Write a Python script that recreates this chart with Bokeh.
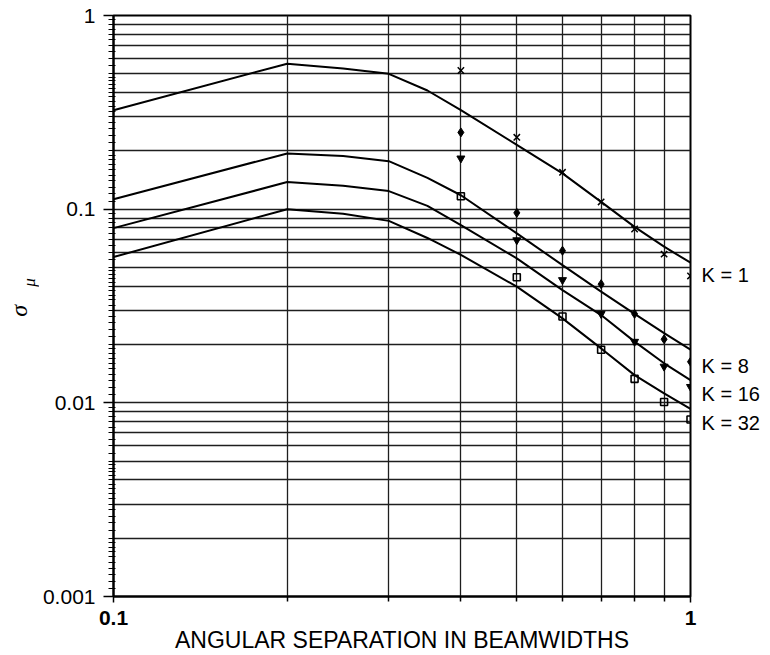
import numpy as np
from bokeh.plotting import figure
from bokeh.layouts import row
from bokeh.models import FixedTicker, CustomJSTickFormatter, LogAxis
from bokeh.core.properties import value
from bokeh.embed import file_html
from bokeh.resources import INLINE

# ---- data ----
x_curve = [0.1, 0.2, 0.25, 0.3, 0.35, 0.4, 0.5, 0.6, 0.7, 0.8, 0.9, 1.0]
k1_curve = [0.324, 0.564, 0.533, 0.50, 0.41, 0.325, 0.215, 0.153, 0.109, 0.081, 0.064, 0.0529]
k8_curve = [0.1126, 0.194, 0.188, 0.177, 0.145, 0.118, 0.075, 0.0514, 0.0375, 0.0288, 0.0229, 0.0188]
k16_curve = [0.0798, 0.138, 0.132, 0.124, 0.104, 0.0828, 0.0557, 0.0382, 0.0284, 0.0207, 0.0160, 0.0131]
k32_curve = [0.0566, 0.100, 0.0946, 0.087, 0.071, 0.058, 0.0398, 0.0273, 0.0191, 0.0139, 0.0112, 0.0093]

x_pts = [0.4, 0.5, 0.6, 0.7, 0.8, 0.9, 1.0]
k1_pts = [0.52, 0.235, 0.155, 0.109, 0.079, 0.0586, 0.0452]
k8_pts = [0.249, 0.0957, 0.061, 0.041, 0.0288, 0.0213, 0.0163]
k16_pts = [0.183, 0.0692, 0.0431, 0.0288, 0.0207, 0.0154, 0.0121]
k32_pts = [0.1167, 0.0445, 0.0279, 0.0188, 0.0133, 0.0101, 0.0082]

k_labels = ["K = 1", "K = 8", "K = 16", "K = 32"]
k_label_y = [0.0455, 0.0155, 0.0111, 0.0079]

x_major = [0.1, 1]
x_minor = [0.2, 0.3, 0.4, 0.5, 0.6, 0.7, 0.8, 0.9]
y_major = [0.001, 0.01, 0.1, 1]
decades = [0.001, 0.01, 0.1]
grid_mult = [1, 2, 3, 4, 5, 6, 7, 8, 9]

FONT = "Liberation Sans"
H = 655
LAB_W = 39

y_grid = [d * m for d in decades for m in grid_mult]
sub = list(np.arange(1.0, 2.0, 0.1)) + list(np.arange(2.0, 5.0, 0.2)) + list(np.arange(5.0, 10.0, 0.5))
y_minor = [d * m for d in decades for m in sub]

# ---- narrow strip holding the y-axis title  σ_μ (pixel-like coordinates, y up) ----
lab = figure(width=LAB_W, height=H, x_range=(0, LAB_W), y_range=(0, H),
             output_backend="svg", toolbar_location=None,
             x_axis_location=None, y_axis_location=None, min_border=0)
lab.outline_line_color = None
lab.background_fill_color = "white"
lab.border_fill_color = "white"
lab.grid.visible = False
lab.text(x=[18], y=[H - 333], text=["σ"], angle=np.pi / 2,
         text_font=value("Liberation Serif"), text_font_style="italic",
         text_font_size="24px", text_color="black",
         text_align="center", text_baseline="middle")
lab.text(x=[29], y=[H - 301], text=["μ"], angle=np.pi / 2,
         text_font=value("Liberation Serif"), text_font_style="italic",
         text_font_size="17px", text_color="black",
         text_align="center", text_baseline="middle")

# ---- main chart ----
p = figure(width=770 - LAB_W, height=H, x_axis_type="log", y_axis_type="log",
           x_range=(0.1, 1), y_range=(0.001, 1),
           output_backend="svg", toolbar_location=None,
           min_border_left=110 - LAB_W, min_border_right=80,
           min_border_top=15, min_border_bottom=58)
p.background_fill_color = "white"
p.border_fill_color = "white"
p.outline_line_color = "black"
p.outline_line_width = 2

fmt = CustomJSTickFormatter(code="return String(tick);")

# x axis
p.xaxis.ticker = FixedTicker(ticks=x_major, minor_ticks=x_minor)
p.xaxis.formatter = fmt
p.xaxis.axis_line_width = 2
p.xaxis.major_tick_out = 6
p.xaxis.major_tick_in = 0
p.xaxis.minor_tick_out = 5
p.xaxis.minor_tick_in = 0
p.xaxis.major_tick_line_width = 1.5
p.xaxis.minor_tick_line_width = 1.5
p.xaxis.major_label_text_font = FONT
p.xaxis.major_label_text_font_size = "21px"
p.xaxis.major_label_text_font_style = "bold"
p.xaxis.major_label_text_color = "black"
p.xaxis.major_label_standoff = 8
p.xaxis.axis_label = "ANGULAR SEPARATION IN BEAMWIDTHS"
p.xaxis.axis_label_text_font = FONT
p.xaxis.axis_label_text_font_size = "23px"
p.xaxis.axis_label_text_font_style = "normal"
p.xaxis.axis_label_text_color = "black"
p.xaxis.axis_label_standoff = -1

# y axis
p.yaxis.ticker = FixedTicker(ticks=y_major, minor_ticks=y_minor)
p.yaxis.formatter = fmt
p.yaxis.axis_line_width = 2
p.yaxis.major_tick_out = 10
p.yaxis.major_tick_in = 0
p.yaxis.minor_tick_out = 5
p.yaxis.minor_tick_in = 2
p.yaxis.major_tick_line_width = 1.5
p.yaxis.minor_tick_line_width = 1
p.yaxis.major_label_text_font = FONT
p.yaxis.major_label_text_font_size = "21px"
p.yaxis.major_label_text_color = "black"
p.yaxis.major_label_standoff = 8

# right axis carrying the curve labels
k_fmt = CustomJSTickFormatter(args=dict(vals=k_label_y, labs=k_labels),
                              code="const i = vals.indexOf(tick); return i >= 0 ? labs[i] : '';")
k_axis = LogAxis(ticker=FixedTicker(ticks=k_label_y), formatter=k_fmt,
                 axis_line_color=None, major_tick_out=0, major_tick_in=0,
                 minor_tick_out=0, minor_tick_in=0, major_label_standoff=11,
                 major_label_text_font=FONT, major_label_text_font_size="20px",
                 major_label_text_color="black")
p.add_layout(k_axis, "right")

# grids
p.xgrid.ticker = FixedTicker(ticks=x_minor)
p.ygrid.ticker = FixedTicker(ticks=y_grid)
for g in (p.xgrid, p.ygrid):
    g.grid_line_color = "#1e1e1e"
    g.grid_line_width = 1.3
    g.grid_line_alpha = 1.0

# curves
for ys in (k1_curve, k8_curve, k16_curve, k32_curve):
    p.line(x_curve, ys, line_color="black", line_width=2)

# measured points
p.scatter(x_pts, k1_pts, marker="x", size=9, line_color="black", line_width=1.5)
p.scatter(x_pts, k8_pts, marker="diamond", size=9, line_color="black", fill_color="black")
p.scatter(x_pts, k16_pts, marker="inverted_triangle", size=8, line_color="black", fill_color="black")
p.scatter(x_pts, k32_pts, marker="square", size=7, line_color="black", line_width=1.6, fill_alpha=0)

layout = row(lab, p)
open("out.html", "w").write(file_html(layout, INLINE))
